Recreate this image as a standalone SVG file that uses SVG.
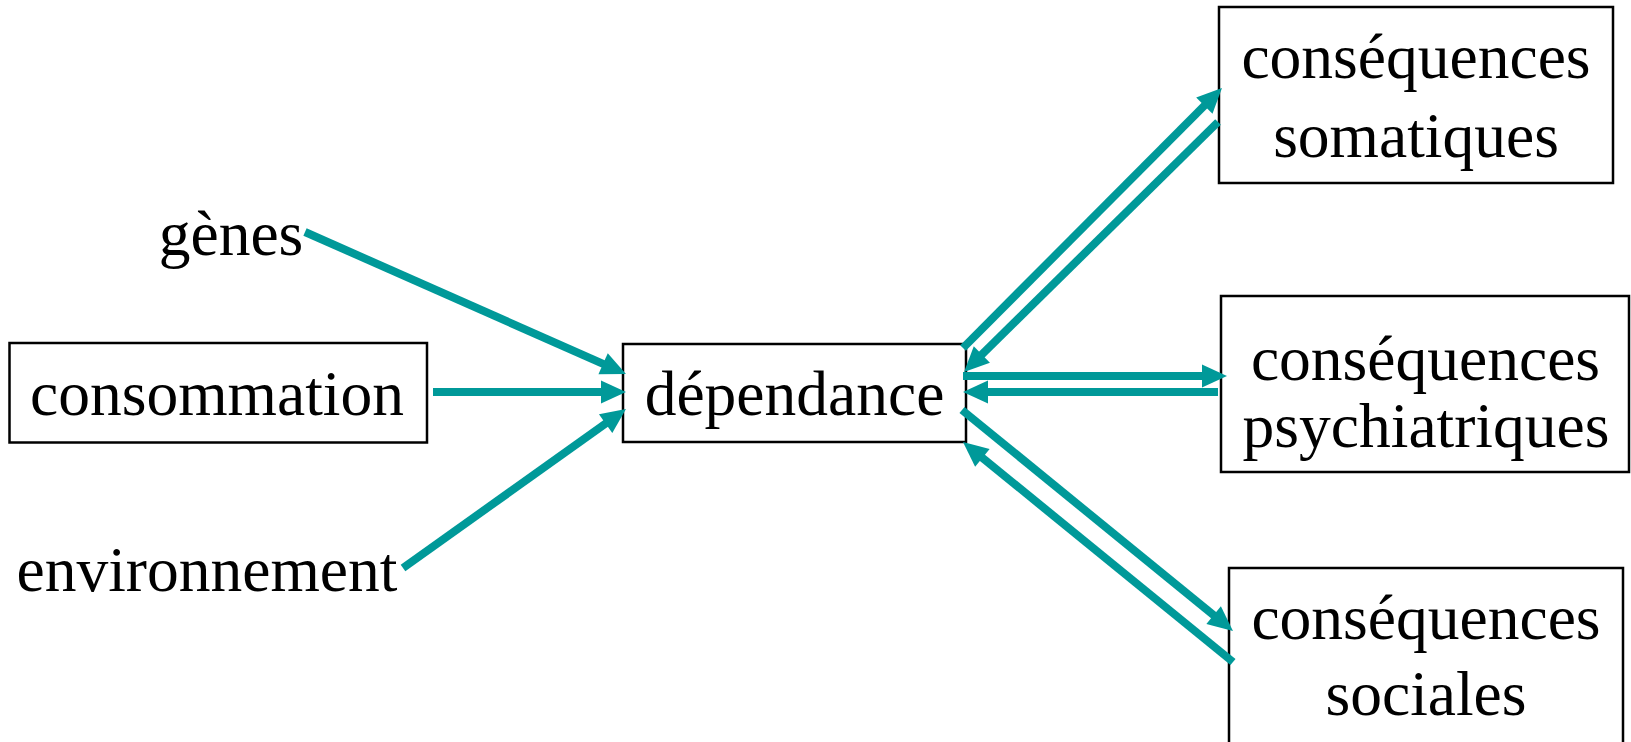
<svg xmlns="http://www.w3.org/2000/svg" width="1631" height="742" viewBox="0 0 1631 742">
<style>
.box{fill:#fff;stroke:#000;stroke-width:2.5}
.t{font-family:"Liberation Serif","Times New Roman",serif;font-size:63.5px;fill:#000;text-anchor:middle}
.c{stroke:#009999;stroke-width:8;fill:none;marker-end:url(#ah)}
</style>
<defs>
<marker id="ah" markerUnits="userSpaceOnUse" markerWidth="26" markerHeight="24" refX="13" refY="11.5" orient="auto" overflow="visible">
<path d="M0,0 L25,11.5 L0,23 z" fill="#009999"/>
</marker>
</defs>
<rect width="1631" height="742" fill="#fff"/>
<g id="genes"><text class="t" x="231" y="255">gènes</text></g>
<g id="consommation"><rect class="box" x="9.5" y="343" width="417.5" height="99.5"/><text class="t" x="217" y="415">consommation</text></g>
<g id="environnement"><text class="t" x="207" y="591">environnement</text></g>
<g id="dependance"><rect class="box" x="623" y="344" width="343" height="98"/><text class="t" x="794.5" y="415">dépendance</text></g>
<g id="somatiques"><rect class="box" x="1219" y="7" width="394" height="176"/><text class="t" x="1416" y="78">conséquences</text><text class="t" x="1416" y="157">somatiques</text></g>
<g id="psychiatriques"><rect class="box" x="1221" y="296" width="408" height="176"/><text class="t" x="1425.5" y="380">conséquences</text><text class="t" x="1426" y="447">psychiatriques</text></g>
<g id="sociales"><rect class="box" x="1229" y="568" width="394" height="200"/><text class="t" x="1426" y="639">conséquences</text><text class="t" x="1426" y="715">sociales</text></g>
<g id="connectors">
<line class="c" x1="305" y1="232" x2="615" y2="369.1"/>
<line class="c" x1="433" y1="392" x2="614" y2="392"/>
<line class="c" x1="403" y1="568" x2="616.2" y2="416"/>
<line class="c" x1="963" y1="348" x2="1213.5" y2="96.5"/>
<line class="c" x1="1218" y1="122" x2="972.6" y2="363.6"/>
<line class="c" x1="963" y1="376" x2="1215" y2="376"/>
<line class="c" x1="1218" y1="392" x2="975" y2="392"/>
<line class="c" x1="962" y1="410" x2="1223.7" y2="623.4"/>
<line class="c" x1="1233" y1="662" x2="972.3" y2="449.6"/>
</g>
</svg>
